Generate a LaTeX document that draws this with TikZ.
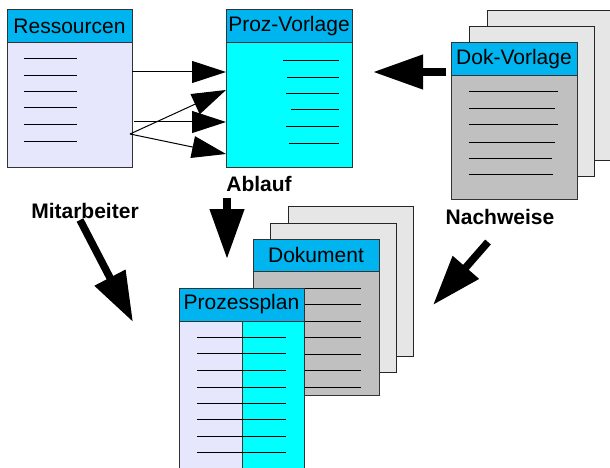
\documentclass[tikz,border=0pt]{standalone}
\usepackage{fontspec}
\setmainfont{Liberation Sans}
\usetikzlibrary{positioning}
\usetikzlibrary{calc}
\usetikzlibrary{arrows.meta}
\definecolor{kopfblau}{RGB}{0,180,240}
\definecolor{lavendel}{RGB}{230,230,252}
\definecolor{tuerkis}{RGB}{0,255,255}
\definecolor{grau}{RGB}{192,192,192}
\definecolor{hellgrau}{RGB}{230,230,230}
\tikzset{
	every path/.style={line width=1pt},
	every node/.style={inner sep=0pt,outer sep=0pt},
	kopf/.style={draw=black!80, fill=kopfblau, anchor=north west, minimum height=33pt, font=\fontsize{21}{25}\selectfont},
	rumpf/.style={draw=black!80, anchor=north west},
	blatt/.style={draw=black!85, fill=hellgrau, anchor=north west},
	zeile/.style={draw=black, line width=1pt},
	duenn/.style={-{Triangle[length=34pt,width=22pt]}, line width=1pt},
	dick/.style={-{Triangle[length=50pt,width=33pt]}, line width=7.5pt},
	label/.style={font=\fontsize{21}{25}\selectfont\bfseries}
}
\begin{document}
\begin{tikzpicture}[x=1pt,y=-1pt]
	\useasboundingbox (0,0) rectangle (610,468);
	
	% Ressourcen
	\node[kopf, minimum width=125pt] (res) at (7,10) {Ressourcen};
	\node[rumpf, fill=lavendel, minimum width=125pt, minimum height=124pt] (resb) at (res.south west) {};
	\foreach \y in {59,76,92,108,125,141}
		\draw[zeile] (24,\y) -- (77,\y);
	
	% Proz-Vorlage
	\node[kopf, minimum width=126pt] (proz) at (226,10) {Proz-Vorlage};
	\node[rumpf, fill=tuerkis, minimum width=126pt, minimum height=124pt] (prozb) at (proz.south west) {};
	\foreach \x/\y in {283/61,287/78,286/94,291/110,286/127,289/143}
		\draw[zeile] (\x,\y) -- (339,\y);
	
	% Dok-Vorlage
	\node[blatt, minimum width=125pt, minimum height=149pt] (dokv3) at (487,11) {};
	\node[blatt, minimum width=125pt, minimum height=149pt] (dokv2) at (469,27) {};
	\node[kopf, minimum width=126pt] (dokv) at (451,43) {Dok-Vorlage};
	\node[rumpf, fill=grau, minimum width=126pt, minimum height=123pt] (dokvb) at (dokv.south west) {};
	\foreach \y/\e in {92/558,109/555,125/558,142/555,158/552,174/553}
		\draw[zeile] (469,\y) -- (\e,\y);
	
	% Dokument
	\node[blatt, minimum width=125pt, minimum height=150pt] (dok3) at (288,206) {};
	\node[blatt, minimum width=126pt, minimum height=149pt] (dok2) at (270,223) {};
	\node[kopf, minimum width=126pt, minimum height=32pt] (dok) at (253,239) {Dokument};
	\node[rumpf, fill=grau, minimum width=126pt, minimum height=124pt] (dokb) at (dok.south west) {};
	\foreach \y in {288,304,321,337,354,370,387}
		\draw[zeile] (270,\y) -- (361,\y);
	
	% Prozessplan
	\node[kopf, minimum width=125pt] (plan) at (179,288) {Prozessplan};
	\node[rumpf, fill=lavendel, minimum width=63pt, minimum height=152pt] (planl) at (plan.south west) {};
	\node[rumpf, fill=tuerkis, minimum width=62pt, minimum height=152pt] (planr) at (planl.north east) {};
	\foreach \y in {337,353,370,387,403,419,436,452}
		\draw[zeile] (197,\y) -- (286,\y);
	
	% Beschriftungen
	\node[label] (ablauf) at (259,184) {Ablauf};
	\node[label] (mitarb) at (85,211) {Mitarbeiter};
	\node[label] (nachw) at (500,217) {Nachweise};
	
	% Pfeile
	\coordinate (aus1) at (132,72);
	\coordinate (aus2) at (134,122);
	\coordinate (aus3) at (130,134);
	\coordinate (ein1) at (226,72);
	\coordinate (ein2) at (226,90);
	\coordinate (ein3) at (226,122);
	\coordinate (ein4) at (226,154);
	\draw[duenn] (aus1) -- (ein1);
	\draw[duenn] (aus3) -- (ein2);
	\draw[duenn] (aus2) -- (ein3);
	\draw[duenn] (aus3) -- (ein4);
	
	\coordinate (dokaus) at (446,72);
	\coordinate (prozein) at (373,72);
	\draw[dick] (dokaus) -- (prozein);
	
	\coordinate (ablaus) at (227,198);
	\coordinate (ablein) at (227,259);
	\draw[dick] (ablaus) -- (ablein);
	
	\coordinate (mitaus) at (80,220);
	\coordinate (mitein) at (133,322);
	\draw[dick] (mitaus) -- (mitein);
	
	\coordinate (nachaus) at (488,242);
	\coordinate (nachein) at (433,305);
	\draw[dick] (nachaus) -- (nachein);
	
\end{tikzpicture}
\end{document}
